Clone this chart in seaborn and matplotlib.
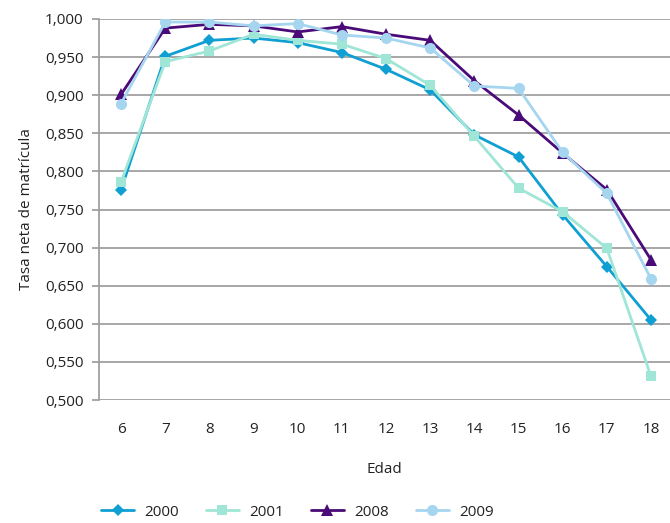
import matplotlib
matplotlib.use("Agg")
import matplotlib.pyplot as plt
import seaborn as sns
import pandas as pd
from matplotlib.ticker import FuncFormatter, MultipleLocator

ages = [6, 7, 8, 9, 10, 11, 12, 13, 14, 15, 16, 17, 18]
y2000 = [0.776, 0.951, 0.972, 0.975, 0.969, 0.956, 0.934, 0.907, 0.848, 0.819, 0.743, 0.675, 0.605]
y2001 = [0.786, 0.944, 0.958, 0.980, 0.972, 0.967, 0.948, 0.913, 0.846, 0.778, 0.747, 0.699, 0.531]
y2008 = [0.901, 0.988, 0.993, 0.991, 0.983, 0.990, 0.980, 0.972, 0.919, 0.874, 0.824, 0.776, 0.684]
y2009 = [0.889, 0.996, 0.996, 0.991, 0.994, 0.979, 0.975, 0.962, 0.912, 0.909, 0.825, 0.771, 0.659]
series_names = ["2000", "2001", "2008", "2009"]
colors = ["#0f9fd2", "#9fe6d6", "#4a0a78", "#a6d5ef"]
markers = ["D", "s", "^", "o"]
msizes = [6, 7, 8, 8]

df = pd.concat([
    pd.DataFrame({"Edad": ages, "valor": vals, "serie": name})
    for name, vals in zip(series_names, [y2000, y2001, y2008, y2009])
])

sns.set_theme(style="white")
plt.rcParams["font.family"] = ["Open Sans", "DejaVu Sans"]

fig = plt.figure(figsize=(6.7, 5.23), dpi=100)
ax = fig.add_axes([99 / 670, 1 - 400 / 523, (670 - 99) / 670, (400 - 19) / 523])

for name, c, m, ms in zip(series_names, colors, markers, msizes):
    sub = df[df["serie"] == name]
    sns.lineplot(data=sub, x="Edad", y="valor", ax=ax, color=c, marker=m,
                 markersize=ms, markeredgewidth=0, linewidth=2.0, label=name)

ax.set_xlim(5.5, 18.43)
ax.set_ylim(0.5, 1.0)
ax.yaxis.set_major_locator(MultipleLocator(0.05))
ax.yaxis.set_major_formatter(FuncFormatter(lambda v, p: f"{v:.3f}".replace(".", ",")))
ax.set_xticks(ages)
ax.set_xticklabels([str(a) for a in ages])
ax.grid(axis="y", color="#a0a0a0", linewidth=1.3)
ax.set_axisbelow(True)
for s in ["top", "right", "bottom"]:
    ax.spines[s].set_visible(False)
ax.spines["left"].set_color("#a0a0a0")
ax.spines["left"].set_linewidth(1.3)
ax.tick_params(axis="y", which="major", left=True, length=5, width=1.3, color="#a0a0a0",
               labelsize=11, labelcolor="#222222", pad=6)
ax.tick_params(axis="x", bottom=False, labelsize=11, labelcolor="#222222", pad=10)
ax.set_xlabel("Edad", fontsize=11, color="#222222", labelpad=18)
ax.set_ylabel("Tasa neta de matrícula", fontsize=11, color="#222222", labelpad=8)

leg = ax.legend(loc="center left", bbox_to_anchor=(0.003, -0.294), ncol=4, frameon=False,
                fontsize=11, handlelength=2.2, columnspacing=1.75, handletextpad=0.65,
                borderpad=0, borderaxespad=0)
for t in leg.get_texts():
    t.set_color("#222222")

fig.savefig("out.png", dpi=100)
